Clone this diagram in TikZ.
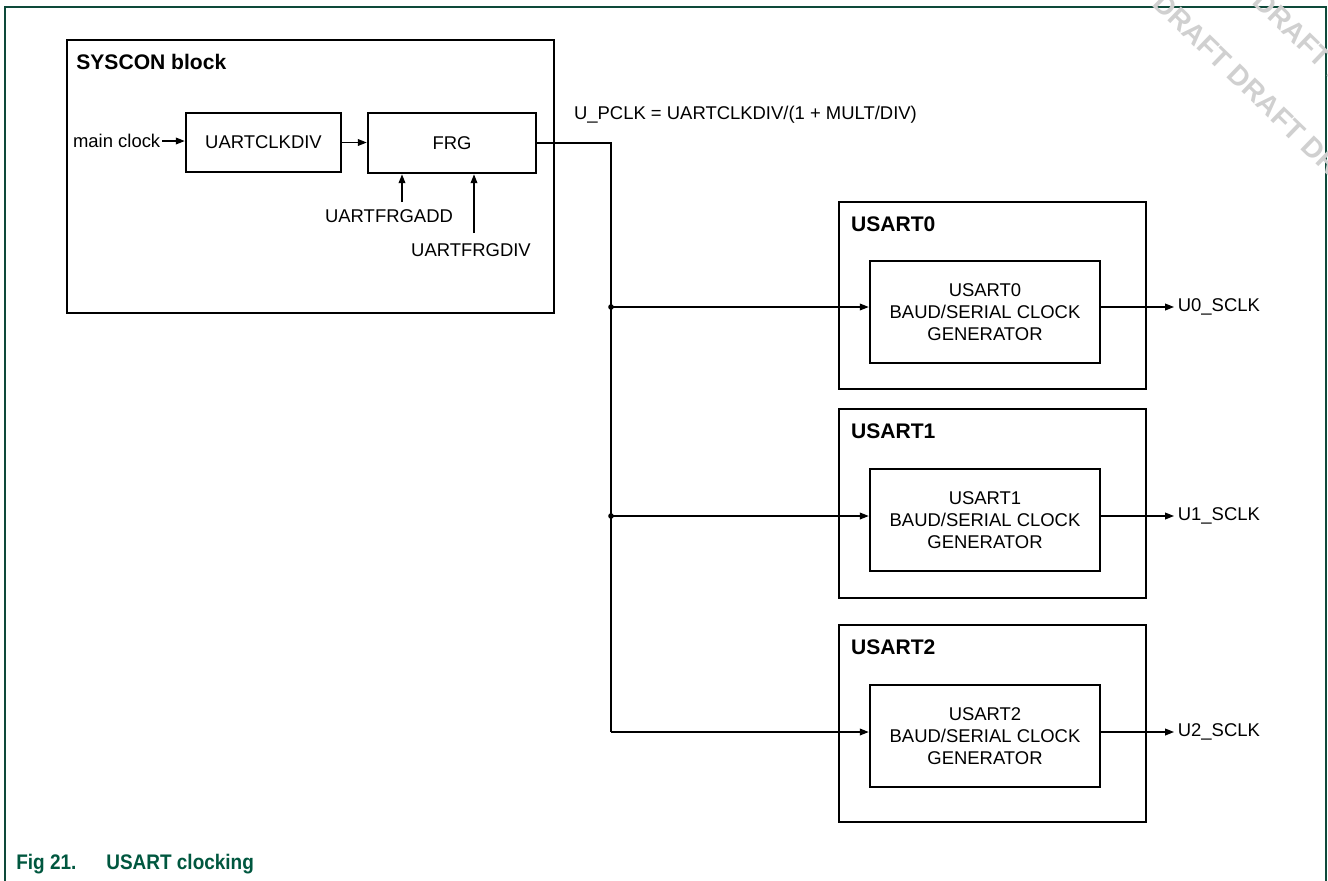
\documentclass[tikz,border=0pt]{standalone}
\usepackage{fontspec}
\setmainfont{Liberation Sans}
\newfontfamily\capfont[FakeStretch=0.9]{Liberation Sans}
\usetikzlibrary{arrows.meta,positioning}
\definecolor{framegreen}{RGB}{14,74,58}
\definecolor{capgreen}{RGB}{0,87,63}
\definecolor{draftgray}{RGB}{208,208,208}
\tikzset{
  txt/.style={font=\fontsize{10.5}{12.6}\selectfont, inner sep=1pt},
  hdr/.style={font=\fontsize{12}{14}\selectfont\bfseries, inner sep=0pt, anchor=west},
  blk/.style={txt, draw, line width=1.5pt, inner sep=0pt},
  wire/.style={line width=0.7pt},
  arr/.style={wire, -{Triangle[length=5pt,width=3.8pt]}},
  dot/.style={circle, fill, inner sep=0pt, minimum size=3.2pt},
  draftmark/.style={draftgray, font=\fontsize{16}{18}\selectfont\bfseries, inner sep=0pt, anchor=west, rotate=-44}
}
\begin{document}
\begin{tikzpicture}[x=0.02cm,y=-0.02cm]
\clip (0,0) rectangle (1328,880);
\draw[framegreen, line width=0.8pt] (5,890) -- (5,7) -- (1326,7) -- (1326,890);
\node[draftmark] (draft1) at (1158,-2) {DRAFT DRAFT DRAFT};
\node[draftmark] (draft2) at (1258,-4) {DRAFT DRAFT};

\node[blk, minimum width=9.74cm, minimum height=5.46cm] (syscon) at (310.5,176.5) {};
\node[hdr] (sysconlbl) at (76,62) {SYSCON block};
\node[blk, minimum width=3.1cm, minimum height=1.18cm] (clkdiv) at (263.5,142.5) {UARTCLKDIV};
\node[blk, minimum width=3.36cm, minimum height=1.2cm] (frg) at (452,143) {FRG};
\node[txt, anchor=west] (mainclk) at (71,141) {main clock};
\draw[arr] (mainclk.east) -- (mainclk.east -| clkdiv.west);
\draw[arr] (clkdiv.east) -- (clkdiv.east -| frg.west);
\node[txt] (frgadd) at (389,216) {UARTFRGADD};
\node[txt] (frgdiv) at (471,250) {UARTFRGDIV};
\coordinate (addin) at (402,202);
\coordinate (divin) at (474,233);
\draw[arr] (addin) -- (addin |- frg.south);
\draw[arr] (divin) -- (divin |- frg.south);
\node[txt, anchor=west] (pclk) at (572,115) {U\_PCLK = UARTCLKDIV/(1 + MULT/DIV)};

\foreach \i/\oy/\oh/\iy/\ay in {0/295.5/3.74cm/312/307, 1/503.5/3.78cm/520/516, 2/723.5/3.94cm/736/732}{
  \node[blk, minimum width=6.14cm, minimum height=\oh] (usart\i) at (992.5,\oy) {};
  \node[hdr] (usartlbl\i) at ([xshift=7.4pt,yshift=-13.6pt]usart\i.north west) {USART\i};
  \node[blk, align=center, minimum width=4.6cm, minimum height=2.04cm] (gen\i) at (985,\iy) {USART\i\\BAUD/SERIAL CLOCK\\GENERATOR};
  \coordinate (bus\i) at (611,\ay);
  \draw[arr] (bus\i) -- (bus\i -| gen\i.west);
  \node[txt, anchor=west, inner sep=2pt] (sclk\i) at (1174,\ay) {U\i\_SCLK};
  \draw[arr] (sclk\i -| gen\i.east) -- (sclk\i.west);
}
\draw[wire] (frg.east) -| (bus2);
\node[dot] (join0) at (bus0) {};
\node[dot] (join1) at (bus1) {};

\node[capgreen, anchor=west, inner sep=0pt, font=\capfont\fontsize{12}{14}\selectfont\bfseries] (caption) at (16,864) {Fig 21.\hspace{17pt}USART clocking};
\end{tikzpicture}
\end{document}
